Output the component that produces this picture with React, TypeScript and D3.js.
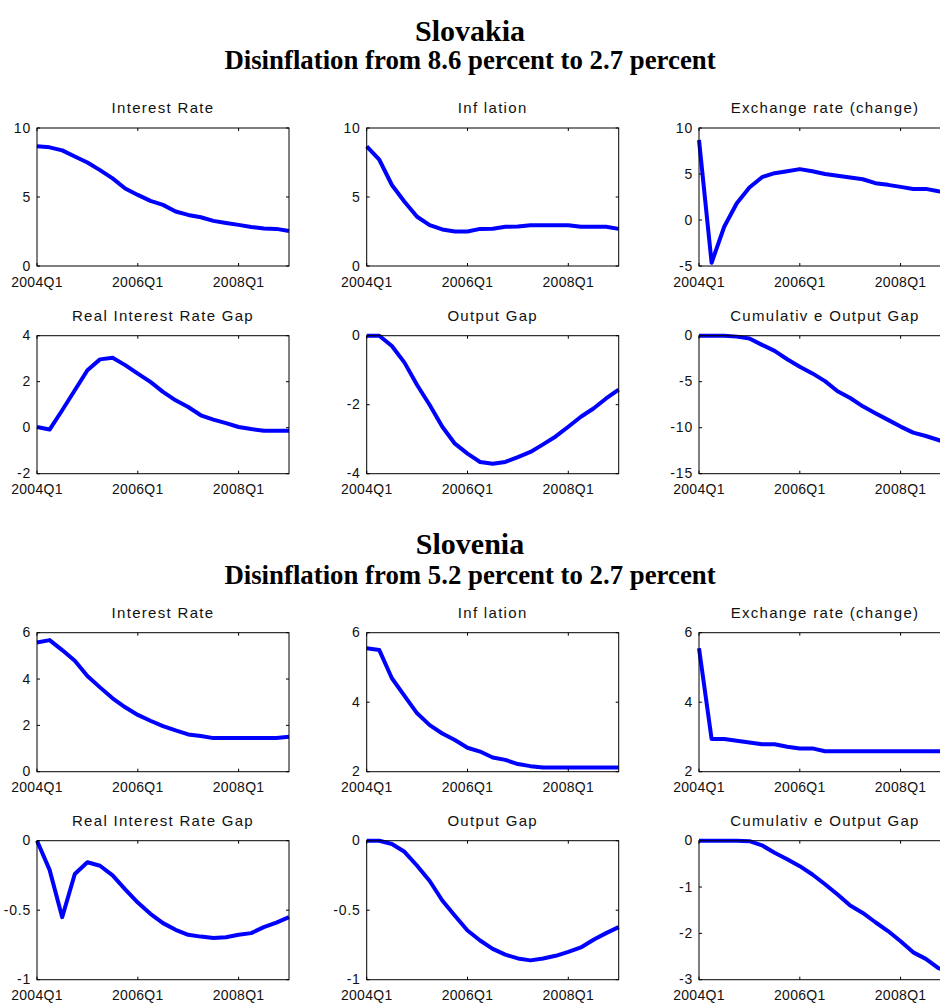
import React from "react";
import * as d3 from "d3";

// Quarterly horizon of the disinflation scenarios
const quarters = [
  "2004Q1", "2004Q2", "2004Q3", "2004Q4",
  "2005Q1", "2005Q2", "2005Q3", "2005Q4",
  "2006Q1", "2006Q2", "2006Q3", "2006Q4",
  "2007Q1", "2007Q2", "2007Q3", "2007Q4",
  "2008Q1", "2008Q2", "2008Q3", "2008Q4",
  "2009Q1",
];
const xTickLabels = ["2004Q1", "2006Q1", "2008Q1"];

// Slovakia
const skInterestRate = [8.67, 8.6, 8.38, 7.94, 7.5, 6.95, 6.35, 5.62, 5.15, 4.72, 4.43, 3.95, 3.7, 3.53, 3.27, 3.12, 2.98, 2.83, 2.71, 2.69, 2.54];
const skInflation = [8.67, 7.7, 5.87, 4.66, 3.57, 2.96, 2.65, 2.5, 2.5, 2.69, 2.7, 2.84, 2.86, 2.96, 2.96, 2.96, 2.96, 2.84, 2.84, 2.84, 2.69];
const skExchangeRate = [8.7, -4.65, -0.73, 1.82, 3.53, 4.65, 5.09, 5.3, 5.53, 5.3, 5.0, 4.8, 4.62, 4.43, 4.0, 3.82, 3.6, 3.38, 3.38, 3.13, 2.95];
const skRealRateGap = [0.03, -0.08, 0.76, 1.63, 2.5, 2.97, 3.04, 2.72, 2.35, 1.99, 1.56, 1.19, 0.9, 0.54, 0.35, 0.2, 0.03, -0.06, -0.13, -0.13, -0.13];
const skOutputGap = [0, 0, -0.3, -0.78, -1.43, -2.01, -2.64, -3.13, -3.42, -3.66, -3.71, -3.66, -3.52, -3.37, -3.15, -2.92, -2.64, -2.35, -2.11, -1.82, -1.56];
const skCumOutputGap = [0, 0, 0, -0.1, -0.3, -1.0, -1.65, -2.56, -3.37, -4.1, -4.94, -6.04, -6.77, -7.68, -8.42, -9.15, -9.88, -10.54, -10.9, -11.34, -11.8];

// Slovenia
const siInterestRate = [5.58, 5.68, 5.25, 4.79, 4.13, 3.64, 3.17, 2.78, 2.45, 2.2, 1.97, 1.78, 1.61, 1.54, 1.45, 1.45, 1.45, 1.45, 1.45, 1.45, 1.51];
const siInflation = [5.55, 5.5, 4.69, 4.18, 3.68, 3.34, 3.1, 2.91, 2.69, 2.58, 2.41, 2.34, 2.22, 2.16, 2.12, 2.12, 2.12, 2.12, 2.12, 2.12, 2.12];
const siExchangeRate = [5.55, 2.94, 2.94, 2.89, 2.84, 2.79, 2.79, 2.72, 2.67, 2.67, 2.59, 2.59, 2.59, 2.59, 2.59, 2.59, 2.59, 2.59, 2.59, 2.59, 2.59];
const siRealRateGap = [0, -0.21, -0.55, -0.24, -0.155, -0.18, -0.25, -0.35, -0.445, -0.526, -0.593, -0.641, -0.677, -0.69, -0.7, -0.694, -0.677, -0.665, -0.622, -0.589, -0.55];
const siOutputGap = [0, 0, -0.024, -0.08, -0.18, -0.29, -0.43, -0.54, -0.646, -0.718, -0.778, -0.82, -0.847, -0.861, -0.847, -0.828, -0.8, -0.768, -0.713, -0.665, -0.622];
const siCumOutputGap = [0, 0, 0, 0, -0.01, -0.1, -0.26, -0.4, -0.55, -0.73, -0.94, -1.16, -1.4, -1.56, -1.76, -1.95, -2.17, -2.41, -2.55, -2.75, -2.84];

// Panel titles
const panelTitles = [
  "Interest Rate", "Inf lation", "Exchange rate (change)",
  "Real Interest Rate Gap", "Output Gap", "Cumulativ e Output Gap",
];

// Y tick values per panel
const skYTicks = [[0, 5, 10], [0, 5, 10], [-5, 0, 5, 10], [-2, 0, 2, 4], [-4, -2, 0], [-15, -10, -5, 0]];
const siYTicks = [[0, 2, 4, 6], [2, 4, 6], [2, 4, 6], [-1, -0.5, 0], [-1, -0.5, 0], [-3, -2, -1, 0]];

const countries = [
  {
    name: "Slovakia",
    subtitle: "Disinflation from 8.6 percent to 2.7 percent",
    series: [skInterestRate, skInflation, skExchangeRate, skRealRateGap, skOutputGap, skCumOutputGap],
    ticks: skYTicks,
  },
  {
    name: "Slovenia",
    subtitle: "Disinflation from 5.2 percent to 2.7 percent",
    series: [siInterestRate, siInflation, siExchangeRate, siRealRateGap, siOutputGap, siCumOutputGap],
    ticks: siYTicks,
  },
];

// Layout
const W = 940;
const H = 1004;
const colLeft = [37, 366.7, 699];
const plotW = 252;
const rowTop = [[128, 335.7], [632.7, 840.7]];
const plotH = [138, 139];
const titleY = [[41, 69], [554, 584]];

const sansFont = "'Liberation Sans', Arial, Helvetica, sans-serif";
const serifFont = "'Liberation Serif', 'Times New Roman', serif";
const tickLen = 3;

function Panel({ x0, y0, w, h, title, values, ticks }: {
  x0: number; y0: number; w: number; h: number; title: string; values: number[]; ticks: number[];
}) {
  const x = d3.scalePoint<string>().domain(quarters).range([x0, x0 + w]);
  const y = d3.scaleLinear().domain([ticks[0], ticks[ticks.length - 1]]).range([y0 + h, y0]);
  const line = d3.line<number>()
    .x((_, i) => x(quarters[i]) as number)
    .y((d) => y(d));
  return (
    <g>
      <text x={x0 + w / 2} y={y0 - 15} textAnchor="middle" fontFamily={sansFont} fontSize={15} letterSpacing={1.3} fill="#111">
        {title}
      </text>
      <path d={line(values) ?? ""} fill="none" stroke="#0000ff" strokeWidth={4} strokeLinejoin="round" />
      <rect x={x0} y={y0} width={w} height={h} fill="none" stroke="#000" strokeWidth={1} />
      {ticks.map((t) => (
        <g key={"y" + t}>
          <line x1={x0} x2={x0 + tickLen} y1={y(t)} y2={y(t)} stroke="#000" />
          <line x1={x0 + w} x2={x0 + w - tickLen} y1={y(t)} y2={y(t)} stroke="#000" />
          <text x={x0 - 6} y={y(t)} dy="0.33em" textAnchor="end" fontFamily={sansFont} fontSize={14} letterSpacing={0.8} fill="#111">
            {String(t)}
          </text>
        </g>
      ))}
      {xTickLabels.map((q) => (
        <g key={"x" + q}>
          <line x1={x(q)} x2={x(q)} y1={y0 + h} y2={y0 + h - tickLen} stroke="#000" />
          <line x1={x(q)} x2={x(q)} y1={y0} y2={y0 + tickLen} stroke="#000" />
          <text x={x(q)} y={y0 + h + 20.5} textAnchor="middle" fontFamily={sansFont} fontSize={14} letterSpacing={0.3} fill="#111">
            {q}
          </text>
        </g>
      ))}
    </g>
  );
}

export default function App() {
  return (
    <svg width={W} height={H} style={{ position: "absolute", left: 0, top: 0, background: "#fff" }}>
      <rect x={0} y={0} width={W} height={H} fill="#fff" />
      {countries.map((c, ci) => (
        <g key={c.name}>
          <text x={470} y={titleY[ci][0]} textAnchor="middle" fontFamily={serifFont} fontWeight="bold" fontSize={30} fill="#000">
            {c.name}
          </text>
          <text x={470} y={titleY[ci][1]} textAnchor="middle" fontFamily={serifFont} fontWeight="bold" fontSize={26.8} fill="#000">
            {c.subtitle}
          </text>
          {c.series.map((vals, pi) => {
            const r = Math.floor(pi / 3);
            const col = pi % 3;
            return (
              <Panel
                key={pi}
                x0={colLeft[col]}
                y0={rowTop[ci][r]}
                w={plotW}
                h={plotH[ci]}
                title={panelTitles[pi]}
                values={vals}
                ticks={c.ticks[pi]}
              />
            );
          })}
        </g>
      ))}
    </svg>
  );
}
